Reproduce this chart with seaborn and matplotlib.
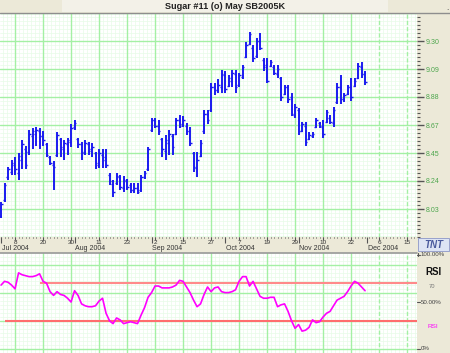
import matplotlib
matplotlib.use("Agg")
import matplotlib.pyplot as plt
import seaborn as sns
import numpy as np
import pandas as pd

#---- Data ---------------------------------------------------------------####

title = "Sugar #11 (o) May SB2005K"

# daily bars, one per trading day starting 1 Jul 2004
high = [8.08, 8.23, 8.35, 8.40, 8.42, 8.45, 8.55, 8.51, 8.63, 8.64,
        8.65, 8.64, 8.62, 8.53, 8.43, 8.39, 8.61, 8.57, 8.55, 8.57,
        8.67, 8.70, 8.57, 8.54, 8.55, 8.54, 8.53, 8.46, 8.48, 8.48,
        8.48, 8.30, 8.25, 8.30, 8.29, 8.28, 8.26, 8.23, 8.23, 8.23,
        8.29, 8.32, 8.50, 8.72, 8.72, 8.70, 8.57, 8.59, 8.63, 8.60,
        8.72, 8.74, 8.73, 8.68, 8.65, 8.46, 8.46, 8.55, 8.78, 8.78,
        8.98, 8.98, 9.01, 9.08, 9.07, 9.04, 9.08, 9.08, 9.06, 9.12,
        9.29, 9.37, 9.27, 9.32, 9.36, 9.17, 9.17, 9.16, 9.12, 9.12,
        9.03, 8.97, 8.97, 8.91, 8.82, 8.79, 8.69, 8.69, 8.61, 8.61,
        8.72, 8.69, 8.70, 8.78, 8.74, 8.80, 8.98, 9.04, 8.91, 8.97,
        9.02, 9.02, 9.13, 9.14, 9.07]
low = [7.96, 8.08, 8.25, 8.29, 8.29, 8.25, 8.33, 8.33, 8.44, 8.48,
       8.51, 8.48, 8.51, 8.42, 8.36, 8.17, 8.42, 8.42, 8.40, 8.44,
       8.50, 8.63, 8.49, 8.40, 8.44, 8.44, 8.42, 8.33, 8.34, 8.34,
       8.34, 8.21, 8.12, 8.21, 8.17, 8.16, 8.17, 8.15, 8.15, 8.14,
       8.16, 8.26, 8.32, 8.61, 8.64, 8.59, 8.42, 8.40, 8.44, 8.44,
       8.59, 8.64, 8.65, 8.59, 8.51, 8.31, 8.27, 8.42, 8.60, 8.67,
       8.76, 8.89, 8.91, 8.91, 8.91, 8.95, 8.95, 8.91, 8.95, 9.01,
       9.17, 9.27, 9.14, 9.17, 9.23, 9.07, 8.98, 9.10, 9.04, 9.02,
       8.85, 8.89, 8.83, 8.73, 8.72, 8.59, 8.61, 8.51, 8.55, 8.57,
       8.64, 8.64, 8.57, 8.68, 8.67, 8.65, 8.82, 8.82, 8.84, 8.89,
       8.85, 8.95, 9.01, 9.02, 8.97]
open_ = [7.98, 8.10, 8.27, 8.31, 8.36, 8.30, 8.40, 8.48, 8.46, 8.58,
         8.60, 8.62, 8.58, 8.52, 8.42, 8.36, 8.44, 8.56, 8.48, 8.52,
         8.54, 8.65, 8.56, 8.52, 8.46, 8.52, 8.48, 8.45, 8.36, 8.44,
         8.42, 8.29, 8.22, 8.23, 8.27, 8.19, 8.24, 8.21, 8.17, 8.19,
         8.17, 8.27, 8.33, 8.63, 8.70, 8.66, 8.56, 8.47, 8.53, 8.58,
         8.60, 8.70, 8.67, 8.66, 8.62, 8.45, 8.34, 8.43, 8.62, 8.75,
         8.78, 8.95, 8.93, 8.95, 9.04, 8.96, 9.00, 9.05, 8.97, 9.03,
         9.18, 9.28, 9.25, 9.19, 9.30, 9.16, 9.12, 9.11, 9.10, 9.05,
         9.02, 8.90, 8.95, 8.88, 8.74, 8.78, 8.62, 8.66, 8.56, 8.58,
         8.65, 8.68, 8.65, 8.69, 8.72, 8.68, 8.84, 8.95, 8.86, 8.90,
         8.95, 8.96, 9.02, 9.10, 9.05]
close = [8.07, 8.21, 8.33, 8.38, 8.33, 8.43, 8.52, 8.36, 8.60, 8.62,
         8.63, 8.58, 8.55, 8.44, 8.38, 8.35, 8.59, 8.50, 8.53, 8.55,
         8.64, 8.68, 8.52, 8.45, 8.53, 8.47, 8.50, 8.38, 8.45, 8.40,
         8.36, 8.24, 8.16, 8.28, 8.20, 8.25, 8.20, 8.17, 8.19, 8.16,
         8.27, 8.30, 8.48, 8.70, 8.66, 8.62, 8.48, 8.55, 8.60, 8.50,
         8.70, 8.66, 8.70, 8.62, 8.53, 8.35, 8.40, 8.53, 8.75, 8.70,
         8.95, 8.93, 8.97, 9.05, 8.94, 9.02, 9.06, 8.95, 9.04, 9.10,
         9.27, 9.35, 9.17, 9.30, 9.25, 9.10, 9.00, 9.14, 9.06, 9.09,
         8.88, 8.95, 8.86, 8.75, 8.80, 8.62, 8.67, 8.54, 8.59, 8.60,
         8.70, 8.66, 8.60, 8.76, 8.69, 8.78, 8.95, 8.86, 8.89, 8.95,
         8.88, 9.00, 9.11, 9.05, 8.99]

rsi = [68, 72, 71, 68, 64, 81, 79, 78, 77, 77,
       78, 80, 72, 70, 61, 57, 61, 58, 57, 54,
       50, 62, 57, 48, 46, 45, 45, 46, 51, 54,
       38, 30, 27, 33, 31, 27, 28, 29, 28, 27,
       36, 44, 55, 60, 67, 67, 65, 65, 65, 66,
       68, 73, 72, 66, 60, 52, 45, 48, 58, 66,
       61, 65, 66, 61, 60, 60, 61, 63, 72, 77,
       77, 67, 72, 64, 56, 54, 54, 55, 55, 45,
       47, 48, 40, 30, 22, 26, 19, 20, 23, 31,
       28, 29, 34, 38, 40, 46, 52, 54, 56, 61,
       67, 72, 70, 66, 62]

price_ticks = [8.03, 8.2417, 8.4533, 8.665, 8.8767, 9.0883, 9.30]
price_labels = ["8.03", "8.24", "8.45", "8.67", "8.88", "9.09", "9.30"]

day_ticks = [4, 12, 20, 28, 36, 44, 52, 60, 68, 76, 84, 92, 100, 108, 116]
day_labels = ["8", "20", "30", "11", "23", "2", "15", "27", "7", "19", "29",
              "10", "22", "6", "15"]
month_starts = [0, 21, 43, 64, 85, 104.6]
month_labels = ["Jul 2004", "Aug 2004", "Sep 2004", "Oct 2004", "Nov 2004", "Dec 2004"]

rsi_upper, rsi_lower = 70, 30

#---- Style -------------------------------------------------------------####

sns.set_theme(style="white")
plt.rcParams['font.family'] = ['Liberation Sans', 'DejaVu Sans']

beige = "#ECE9D8"
major_green = "#A4F0A4"
minor_green = "#E8FBE8"
bar_blue = "#1A1AF0"

W, H = 450, 353
def fx(px):
    return px / W
def fy(py):
    return 1 - py / H

fig = plt.figure(figsize=(4.5, 3.53), dpi=100, facecolor=beige)

days = np.arange(len(high))
x_right = 417 / 3.5 - 0.3
last_day = len(high) - 1

#---- Title bar ---------------------------------------------------------####

fig.patches.append(plt.Rectangle((fx(62), fy(11.5)), fx(326), 11.5 / H,
                                 transform=fig.transFigure, facecolor="#F3F1E8",
                                 edgecolor="none"))
fig.text(0.5, fy(6.5), title, ha="center", va="center", fontsize=6.6,
         fontweight="bold", color="#222222")
fig.text(fx(447), fy(8), ".", ha="center", va="center", fontsize=6, color="#333333")
fig.lines.append(plt.Line2D([0, 1], [fy(13), fy(13)], transform=fig.transFigure,
                            color="#8E8E8E", lw=1))

#---- Main price panel -------------------------------------------------####

step = (9.30 - 8.03) / 6
ax = fig.add_axes([0, fy(237), 417 / W, 224 / H])
ax.set_facecolor("white")
ax.set_xlim(-0.3, x_right)
ax.set_ylim(8.03 - step, 9.30 + step)

for y in np.arange(8.03 - step, 9.30 + step + 1e-6, step / 7):
    ax.axhline(y, color=minor_green, lw=0.5, zorder=0)
for x in np.arange(4 - 8, 120, 8 / 7):
    ax.axvline(x, color=minor_green, lw=0.5, zorder=0)
for y in np.arange(8.03 - step, 9.30 + step + 1e-6, step):
    ax.axhline(y, color=major_green, lw=1.0, zorder=1)
for x in day_ticks:
    ax.axvline(x, color=major_green, lw=1.0, zorder=1,
               ls="-" if x <= last_day else (0, (3, 1.5)))

ax.vlines(days, low, high, colors=bar_blue, lw=1.4, zorder=3)
ax.hlines(open_, days - 0.45, days, colors=bar_blue, lw=1.0, zorder=3)
ax.hlines(close, days, days + 0.45, colors=bar_blue, lw=1.0, zorder=3)

ax.yaxis.tick_right()
ax.set_yticks(price_ticks, price_labels)
ax.set_yticks(np.arange(8.03 - step, 9.30 + step, step / 7), minor=True)
ax.tick_params(axis="y", which="major", right=True, length=5, width=1.0,
               color="#555555", labelcolor="#4DA64D", labelsize=5, pad=1)
ax.tick_params(axis="y", which="minor", right=True, length=2, width=0.8,
               color="#555555")
ax.set_xticks([])
for s in ax.spines.values():
    s.set_visible(False)

#---- Date strip --------------------------------------------------------####

axd = fig.add_axes([0, fy(252), 417 / W, 15 / H])
axd.set_facecolor(beige)
axd.set_xlim(-0.3, x_right)
axd.set_ylim(15, 0)
axd.vlines(np.arange(0, 119), 0, 1.2, colors="#555555", lw=0.7)
axd.vlines(day_ticks, 0, 2.5, colors="#555555", lw=0.8)
axd.vlines(month_starts, 0, 5.5, colors="#555555", lw=0.8)
for x, lab in zip(day_ticks, day_labels):
    axd.text(x, 5.2, lab, ha="center", va="center", fontsize=4.6, color="#333333")
for x, lab in zip(month_starts, month_labels):
    axd.text(x + 0.2, 11, lab, ha="left", va="center", fontsize=5, color="#333333")
axd.set_xticks([])
axd.set_yticks([])
for s in axd.spines.values():
    s.set_visible(False)
fig.lines.append(plt.Line2D([0, fx(417)], [fy(252.5), fy(252.5)],
                            transform=fig.transFigure, color="#999999", lw=1.2))

# logo box
fig.patches.append(plt.Rectangle((fx(418), fy(251)), fx(31), 13 / H,
                                 transform=fig.transFigure, facecolor="#DDE4F4",
                                 edgecolor="#8C96C8", lw=0.6))
fig.text(fx(434), fy(244.5), "TNT", ha="center", va="center", fontsize=7,
         fontweight="bold", fontstyle="italic", color="#4A5A9C")

#---- RSI panel ---------------------------------------------------------####

rpx = 100 / 94
axr = fig.add_axes([0, 0, 417 / W, 100 / H])
axr.set_facecolor("white")
axr.set_xlim(-0.3, x_right)
axr.set_ylim(-4 * rpx, 96 * rpx)
for y in np.arange(-4, 97, 4) * rpx:
    axr.axhline(y, color=minor_green, lw=0.5, zorder=0)
for x in np.arange(4 - 8, 120, 8 / 7):
    axr.axvline(x, color=minor_green, lw=0.5, zorder=0)
for y in np.array([0, 28, 56, 84]) * rpx:
    axr.axhline(y, color=major_green, lw=1.0, zorder=1)
for x in day_ticks:
    axr.axvline(x, color=major_green, lw=1.0, zorder=1,
                ls="-" if x <= last_day else (0, (3, 1.5)))

axr.hlines(rsi_upper, 11, x_right, colors="#FF8A8A", lw=1.5, zorder=2)
axr.hlines(rsi_lower, 1, x_right, colors="#FF6E6E", lw=1.5, zorder=2)

rsi_df = pd.DataFrame({"day": days, "rsi": rsi})
sns.lineplot(data=rsi_df, x="day", y="rsi", ax=axr, color="#FF00FF", lw=1.2, zorder=3)
axr.set_xlabel("")
axr.set_ylabel("")
axr.set_xticks([])
axr.set_yticks([])
for s in axr.spines.values():
    s.set_visible(False)

# RSI side labels
for py, lab in [(255, "100.00%"), (302, "50.00%"), (349, "0%")]:
    fig.lines.append(plt.Line2D([fx(417), fx(420)], [fy(py), fy(py)],
                                transform=fig.transFigure, color="#555555", lw=0.8))
    fig.text(fx(421), fy(py), lab, ha="left", va="center", fontsize=4.4, color="#444444")
fig.lines.append(plt.Line2D([fx(417.5), fx(417.5)], [fy(253), fy(256)],
                            transform=fig.transFigure, color="#555555", lw=0.8))
fig.text(fx(433), fy(272), "RSI", ha="center", va="center", fontsize=7,
         fontweight="bold", color="#111111")
fig.text(fx(432), fy(287), "70", ha="center", va="center", fontsize=4.2, color="#777777")
fig.text(fx(433), fy(326), "RSI", ha="center", va="center", fontsize=4.6, color="#FF00FF")

plt.savefig("out.png", dpi=100, facecolor=beige)
